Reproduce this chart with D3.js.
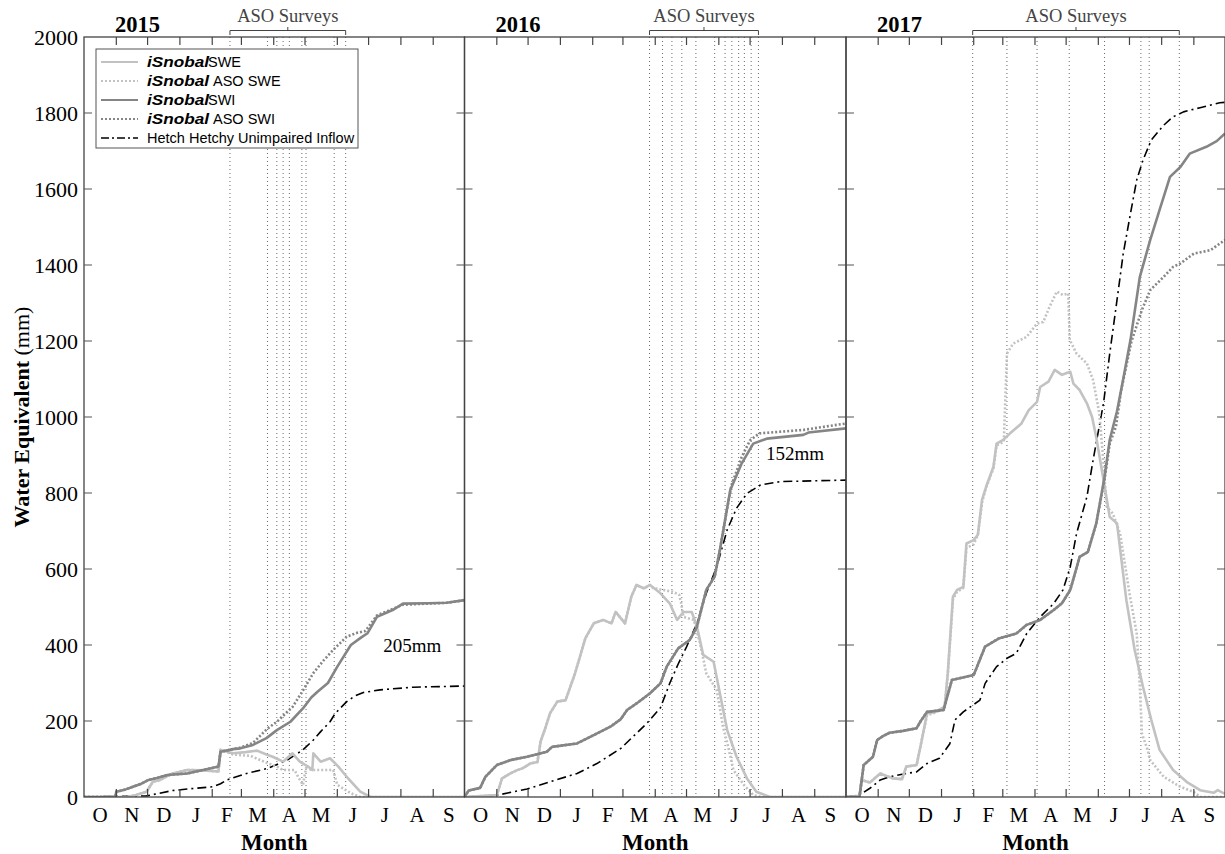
<!DOCTYPE html>
<html>
<head>
<meta charset="utf-8">
<script src="https://cdn.jsdelivr.net/npm/d3@7"></script>
<style>
  body { margin: 0; background: #fff; }
  svg text { font-family: "Liberation Serif", "Times New Roman", serif; fill: #000; }
</style>
</head>
<body>
<svg id="chart" width="1225" height="854"></svg>
<script>
// ---- data (x = day of water year, starting Oct 1; y = mm) ----
const years = ['2015', '2016', '2017'];
const monthLabels = ['O', 'N', 'D', 'J', 'F', 'M', 'A', 'M', 'J', 'J', 'A', 'S'];
const monthLengths2015 = [31, 30, 31, 31, 28, 31, 30, 31, 30, 31, 31, 30];
const monthLengths2016 = [31, 30, 31, 31, 29, 31, 30, 31, 30, 31, 31, 30];
const monthLengths2017 = [31, 30, 31, 31, 28, 31, 30, 31, 30, 31, 31, 30];
const yTickValues = [0, 200, 400, 600, 800, 1000, 1200, 1400, 1600, 1800, 2000];

const surveys2015 = [140, 176, 185, 191, 197, 209, 213, 240, 251];
const surveys2016 = [177.5, 190, 199, 208.5, 222, 240, 250, 256.5, 263, 268.5, 275, 282];
const surveys2017 = [122, 155, 184, 215, 249, 284, 292, 321];

const swe2015 = [[0,0],[41,0],[50,5],[60,14],[66,40],[73,45],[85,62],[99,71],[115,70],[129,67],[131,124],[143,115],[155,118],[166,122],[175,112],[181,106],[191,93],[200,115],[207,93],[215,80],[219,71],[220,115],[227,93],[236,102],[244,80],[253,50],[265,14],[275,0],[365,0]];
const asoSwe2015 = [[0,0],[41,0],[50,5],[60,14],[66,40],[73,45],[85,62],[99,71],[115,70],[129,67],[131,124],[143,112],[160,108],[176,89],[185,80],[191,71],[202,71],[206,50],[210,32],[213,76],[219,71],[239,71],[243,32],[256,10],[265,0],[365,0]];
const swi2015 = [[0,0],[30,0],[31,14],[40,20],[47,27],[55,35],[62,45],[70,50],[80,58],[99,62],[112,70],[124,77],[129,80],[131,119],[143,126],[150,128],[162,137],[175,155],[185,176],[198,198],[210,233],[218,262],[224,277],[234,300],[243,343],[256,400],[266,420],[272,431],[281,474],[290,485],[296,492],[306,509],[330,510],[348,511],[365,518]];
const asoSwi2015 = [[0,0],[30,0],[31,14],[40,20],[47,27],[55,35],[62,45],[70,50],[80,58],[99,62],[112,70],[124,77],[129,80],[131,119],[143,126],[150,130],[162,142],[176,180],[185,198],[200,237],[210,280],[220,326],[230,360],[239,387],[252,422],[262,432],[270,437],[281,478],[296,495],[306,506],[348,511],[365,518]];
const hh2015 = [[0,0],[60,3],[85,17],[99,21],[124,27],[131,35],[137,45],[156,62],[176,75],[195,97],[210,124],[220,150],[227,172],[236,198],[241,220],[252,251],[260,266],[268,275],[284,282],[316,289],[365,292]];

const swe2016 = [[0,0],[31,5],[36,49],[44,62],[50,70],[56,76],[63,88],[70,92],[73,146],[78,185],[82,220],[89,251],[97,255],[106,325],[116,418],[124,457],[133,466],[141,457],[145,487],[154,457],[160,527],[165,558],[172,549],[178,558],[188,536],[197,509],[204,466],[210,487],[218,487],[223,448],[229,374],[239,356],[245,273],[252,176],[261,106],[271,49],[280,14],[293,0],[366,0]];
const asoSwe2016 = [[0,0],[31,5],[36,49],[44,62],[50,70],[56,76],[63,88],[70,92],[73,146],[78,185],[82,220],[89,251],[97,255],[106,325],[116,418],[124,457],[133,466],[141,457],[145,487],[154,457],[160,527],[165,558],[172,549],[178,558],[181,550],[190,545],[200,540],[206,532],[208,509],[210,474],[220,466],[226,404],[232,325],[242,282],[248,185],[253,132],[258,71],[268,32],[277,5],[285,0],[366,0]];
const swi2016 = [[0,0],[4,17],[15,24],[20,53],[31,84],[44,97],[60,106],[79,119],[84,132],[108,141],[124,163],[140,185],[150,205],[156,229],[167,250],[178,273],[188,299],[194,343],[205,391],[216,413],[223,448],[232,545],[240,580],[245,650],[255,808],[266,878],[277,930],[290,943],[325,953],[330,959],[366,970]];
const asoSwi2016 = [[0,0],[4,17],[15,24],[20,53],[31,84],[44,97],[60,106],[79,119],[84,132],[108,141],[124,163],[140,185],[150,205],[156,229],[167,250],[178,273],[188,299],[194,343],[205,391],[216,413],[223,448],[232,545],[240,580],[245,650],[252,760],[256,820],[266,895],[274,939],[283,957],[325,966],[366,983]];
const hh2016 = [[0,0],[28,3],[60,21],[82,40],[108,62],[127,88],[150,128],[175,194],[188,235],[197,300],[205,350],[213,395],[223,457],[232,536],[242,606],[252,703],[261,760],[271,799],[284,821],[303,830],[366,834]];

const swe2017 = [[0,0],[13,3],[15,45],[23,38],[33,62],[45,49],[54,47],[58,80],[68,84],[73,150],[78,220],[86,224],[95,238],[98,325],[103,527],[107,545],[113,553],[116,667],[123,676],[127,690],[131,782],[135,817],[142,869],[145,930],[151,939],[158,957],[169,983],[176,1018],[184,1040],[187,1079],[195,1093],[201,1124],[208,1111],[216,1119],[219,1088],[225,1071],[232,1036],[237,1000],[241,947],[248,834],[254,737],[261,720],[270,518],[278,387],[286,290],[294,203],[302,124],[315,71],[328,40],[341,18],[354,11],[358,18],[365,8]];
const asoSwe2017 = [[0,0],[13,3],[15,45],[23,38],[33,62],[45,49],[54,47],[58,80],[68,84],[73,150],[78,215],[86,222],[95,236],[98,320],[103,520],[107,540],[113,550],[116,655],[123,665],[127,690],[131,775],[135,815],[142,865],[145,925],[152,935],[155,1167],[161,1193],[174,1211],[184,1246],[190,1250],[196,1290],[203,1330],[209,1321],[214,1325],[215.5,1203],[222,1167],[232,1141],[238,1097],[244,1009],[248,880],[251,764],[257,746],[264,693],[273,536],[280,430],[283,290],[285,167],[290,128],[293,97],[306,53],[322,27],[335,13],[341,0],[365,0]];
const swi2017 = [[0,0],[13,0],[17,84],[26,106],[30,150],[36,161],[42,169],[55,174],[68,181],[72,200],[78,224],[94,229],[102,308],[123,321],[134,396],[147,417],[164,430],[174,453],[187,466],[200,492],[208,510],[216,545],[225,632],[233,645],[241,720],[249,842],[254,940],[261,1015],[267,1100],[274,1203],[283,1369],[293,1466],[302,1545],[312,1632],[322,1658],[331,1693],[347,1711],[357,1726],[365,1746]];
const asoSwi2017 = [[0,0],[13,0],[17,84],[26,106],[30,150],[36,161],[42,169],[55,174],[68,181],[72,200],[78,224],[94,229],[102,308],[123,321],[134,396],[147,417],[164,430],[174,453],[187,466],[200,492],[208,510],[216,545],[225,632],[233,645],[241,720],[249,835],[254,930],[260,975],[265,1070],[275,1200],[285,1282],[293,1334],[306,1369],[315,1395],[322,1404],[335,1430],[351,1439],[365,1466]];
const hh2017 = [[0,0],[13,5],[23,23],[33,45],[42,53],[58,62],[68,66],[78,88],[90,102],[100,140],[105,203],[113,224],[129,255],[134,299],[145,343],[155,365],[164,378],[174,430],[187,474],[200,509],[209,545],[216,606],[222,693],[232,790],[238,887],[245,992],[248,1036],[254,1167],[261,1308],[267,1430],[274,1536],[280,1624],[286,1676],[294,1729],[306,1768],[315,1790],[325,1803],[341,1814],[360,1827],[365,1828]];

// label text, day, value
const notes2015 = [['205mm', 315, 400]];
const notes2016 = [['152mm', 317, 905]];
const notes2017 = [];

// ---- styles / layout ----
const styles = {
  hh:     { stroke: '#000',    width: 1.6, dash: '9,4,2,4', label: 'Hetch Hetchy Unimpaired Inflow' },
  swe:    { stroke: '#c2c2c2', width: 2.6, dash: null,      label: 'SWE' },
  asoSwe: { stroke: '#c2c2c2', width: 2.6, dash: '2,2',     label: 'ASO SWE' },
  swi:    { stroke: '#858585', width: 2.6, dash: null,      label: 'SWI' },
  asoSwi: { stroke: '#858585', width: 2.6, dash: '2,2',     label: 'ASO SWI' },
};

const panels = [
  { year: years[0], months: monthLengths2015, surveys: surveys2015, notes: notes2015,
    series: { hh: hh2015, swe: swe2015, asoSwe: asoSwe2015, swi: swi2015, asoSwi: asoSwi2015 } },
  { year: years[1], months: monthLengths2016, surveys: surveys2016, notes: notes2016,
    series: { hh: hh2016, swe: swe2016, asoSwe: asoSwe2016, swi: swi2016, asoSwi: asoSwi2016 } },
  { year: years[2], months: monthLengths2017, surveys: surveys2017, notes: notes2017,
    series: { hh: hh2017, swe: swe2017, asoSwe: asoSwe2017, swi: swi2017, asoSwi: asoSwi2017 } },
];

const edges = [84, 464.5, 846, 1225];
const plotTop = 37, plotBottom = 797;
const svg = d3.select('#chart');

const y = d3.scaleLinear().domain([0, 2000]).range([plotBottom, plotTop]);

panels.forEach((p, i) => {
  const nDays = d3.sum(p.months);
  const x = d3.scaleLinear().domain([0, nDays]).range([edges[i], edges[i + 1]]);
  const ends = Array.from(d3.cumsum(p.months));  // end day of each month
  const g = svg.append('g');

  g.append('clipPath').attr('id', 'clip' + i)
    .append('rect')
    .attr('x', x(0)).attr('y', plotTop)
    .attr('width', x(nDays) - x(0)).attr('height', plotBottom - plotTop);

  // ASO survey lines
  g.append('g').selectAll('line').data(p.surveys).join('line')
    .attr('x1', d => x(d)).attr('x2', d => x(d))
    .attr('y1', plotTop).attr('y2', plotBottom)
    .attr('stroke', '#6a6a6a').attr('stroke-width', 1)
    .attr('stroke-dasharray', '1,3');

  // bracket + label
  const s0 = x(p.surveys[0]), s1 = x(p.surveys[p.surveys.length - 1]), sc = (s0 + s1) / 2;
  g.append('path')
    .attr('d', `M${s0},35V30.5H${s1}V35M${sc},30.5V27`)
    .attr('fill', 'none').attr('stroke', '#444').attr('stroke-width', 1);
  g.append('text').attr('x', sc).attr('y', 21.5)
    .attr('text-anchor', 'middle').attr('font-size', 18.5).style('fill', '#444')
    .text('ASO Surveys');

  // series
  const line = d3.line().x(d => x(d[0])).y(d => y(d[1]));
  const order = ['hh', 'swe', 'asoSwe', 'swi', 'asoSwi'];
  g.append('g').attr('clip-path', `url(#clip${i})`)
    .selectAll('path').data(order).join('path')
    .attr('d', k => line(p.series[k]))
    .attr('fill', 'none')
    .attr('stroke', k => styles[k].stroke)
    .attr('stroke-width', k => styles[k].width)
    .attr('stroke-dasharray', k => styles[k].dash)
    .attr('stroke-linejoin', 'round');

  // frame
  g.append('rect')
    .attr('x', x(0)).attr('y', plotTop)
    .attr('width', x(nDays) - x(0)).attr('height', plotBottom - plotTop)
    .attr('fill', 'none').attr('stroke', '#444').attr('stroke-width', 1.3);

  // month ticks (top & bottom, inward)
  const inner = ends.slice(0, -1);
  g.append('g').selectAll('path').data(inner).join('path')
    .attr('d', d => `M${x(d)},${plotBottom}v-8M${x(d)},${plotTop}v8`)
    .attr('stroke', '#444').attr('stroke-width', 1.2);

  // y ticks both sides, inward
  g.append('g').selectAll('path').data(yTickValues.slice(1, -1)).join('path')
    .attr('d', d => `M${x(0)},${y(d)}h8M${x(nDays)},${y(d)}h-8`)
    .attr('stroke', '#555').attr('stroke-width', 1.2);

  // month labels at mid-month
  g.append('g').selectAll('text').data(p.months).join('text')
    .attr('x', (d, j) => x(ends[j] - d / 2))
    .attr('y', 822)
    .attr('text-anchor', 'middle').attr('font-size', 21)
    .text((d, j) => monthLabels[j]);

  g.append('text')
    .attr('x', (x(0) + x(nDays)) / 2).attr('y', 850)
    .attr('text-anchor', 'middle').attr('font-size', 23).attr('font-weight', 'bold')
    .text('Month');

  g.append('text')
    .attr('x', x(0) + 31).attr('y', 32)
    .attr('font-size', 22.5).attr('font-weight', 'bold')
    .text(p.year);

  g.append('g').selectAll('text').data(p.notes).join('text')
    .attr('x', d => x(d[1])).attr('y', d => y(d[2]))
    .attr('dy', '0.35em')
    .attr('text-anchor', 'middle').attr('font-size', 19)
    .text(d => d[0]);
});

// y axis labels
svg.append('g').selectAll('text').data(yTickValues).join('text')
  .attr('x', 78).attr('y', d => y(d)).attr('dy', '0.35em')
  .attr('text-anchor', 'end').attr('font-size', 22)
  .text(d => d);

const ylab = svg.append('text')
  .attr('transform', `translate(29,${(plotTop + plotBottom) / 2}) rotate(-90)`)
  .attr('text-anchor', 'middle').attr('font-size', 22);
ylab.append('tspan').attr('font-weight', 'bold').text('Water Equivalent ');
ylab.append('tspan').text('(mm)');

// legend
const legendKeys = ['swe', 'asoSwe', 'swi', 'asoSwi', 'hh'];
const lg = svg.append('g');
lg.append('rect').attr('x', 96).attr('y', 49).attr('width', 262).attr('height', 99)
  .attr('fill', '#fff').attr('stroke', '#555').attr('stroke-width', 1);
legendKeys.forEach((k, j) => {
  const ly = 62 + j * 19;
  const st = styles[k];
  lg.append('line').attr('x1', 101).attr('x2', 138).attr('y1', ly).attr('y2', ly)
    .attr('stroke', st.stroke).attr('stroke-width', k === 'hh' ? 1.6 : 2.2)
    .attr('stroke-dasharray', k === 'hh' ? '8,3,2,3' : st.dash);
  let tx = 147;
  if (k !== 'hh') {
    lg.append('text').attr('x', 147).attr('y', ly).attr('dy', '0.36em')
      .attr('font-size', 14.5).attr('font-weight', 'bold').attr('font-style', 'italic')
      .attr('textLength', 62).attr('lengthAdjust', 'spacingAndGlyphs')
      .style('font-family', '"Liberation Sans", Arial, sans-serif')
      .text('iSnobal');
    tx = k.startsWith('aso') ? 213 : 208;
  }
  lg.append('text').attr('x', tx).attr('y', ly).attr('dy', '0.36em')
    .attr('font-size', 14.5)
    .style('font-family', '"Liberation Sans", Arial, sans-serif')
    .text(st.label);
});
</script>
</body>
</html>
